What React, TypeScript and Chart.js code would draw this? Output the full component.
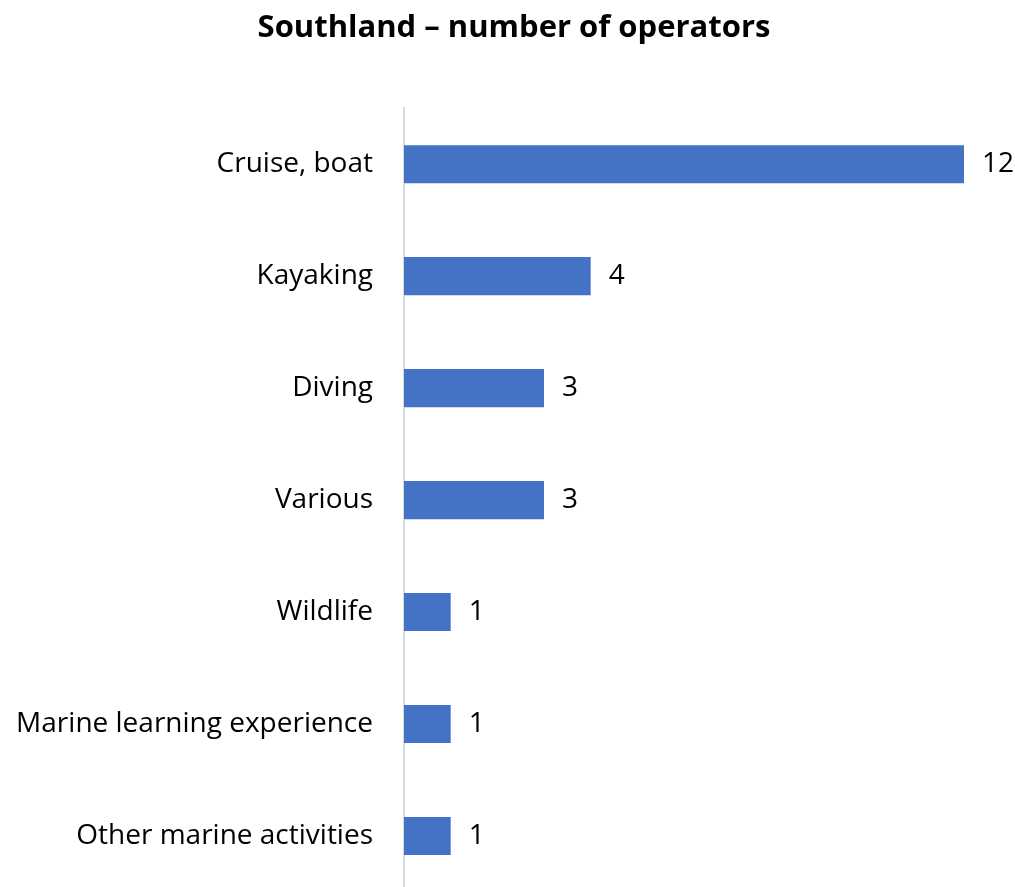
import React, { useEffect, useRef } from "react";
import { Chart, registerables } from "chart.js";

Chart.register(...registerables);

const categories = [
  "Cruise, boat",
  "Kayaking",
  "Diving",
  "Various",
  "Wildlife",
  "Marine learning experience",
  "Other marine activities",
];
const operators = [12, 4, 3, 3, 1, 1, 1];
const titleText = "Southland – number of operators";

const FONT = "'Open Sans', 'DejaVu Sans', sans-serif";

const valueLabels = {
  id: "valueLabels",
  afterDatasetsDraw(chart: any) {
    const ctx = chart.ctx;
    const meta = chart.getDatasetMeta(0);
    ctx.save();
    ctx.font = `28px ${FONT}`;
    ctx.fillStyle = "#000000";
    ctx.textAlign = "left";
    ctx.textBaseline = "middle";
    meta.data.forEach((bar: any, i: number) => {
      ctx.fillText(String(chart.data.datasets[0].data[i]), bar.x + 18, bar.y);
    });
    ctx.restore();
  },
};

export default function App() {
  const ref = useRef<HTMLCanvasElement | null>(null);
  useEffect(() => {
    if (!ref.current) return;
    const chart = new Chart(ref.current, {
      type: "bar",
      data: {
        labels: categories,
        datasets: [
          {
            data: operators,
            backgroundColor: "#4472C4",
            borderWidth: 0,
            barPercentage: 0.34,
            categoryPercentage: 1,
          },
        ],
      },
      options: {
        indexAxis: "y",
        animation: false,
        responsive: false,
        maintainAspectRatio: false,
        layout: { padding: { left: 13, right: 0, top: 0, bottom: 0 } },
        plugins: {
          legend: { display: false },
          tooltip: { enabled: false },
          title: {
            display: true,
            text: titleText,
            color: "#000000",
            font: { family: FONT, size: 31, weight: "bold", lineHeight: 1.2 },
            padding: { top: 10, bottom: 61 },
          },
        },
        scales: {
          x: { display: false, min: 0, max: 12 },
          y: {
            afterFit: (s: any) => {
              s.width = 391;
              s.paddingTop = 0;
              s.paddingBottom = 0;
            },
            grid: { display: false, drawTicks: false },
            border: { display: true, color: "#d9d9d9", width: 2 },
            ticks: {
              color: "#000000",
              padding: 31,
              font: { family: FONT, size: 28 },
            },
          },
          yRight: {
            type: "linear",
            position: "right",
            display: true,
            grid: { display: false, drawTicks: false },
            border: { display: false },
            ticks: { display: false },
            afterFit: (s: any) => {
              s.width = 51;
              s.paddingTop = 0;
              s.paddingBottom = 0;
            },
          },
        },
      },
      plugins: [valueLabels],
    });
    return () => chart.destroy();
  }, []);
  return (
    <div
      style={{
        position: "fixed",
        left: 0,
        top: 0,
        width: 1015,
        height: 887,
        overflow: "hidden",
        background: "#ffffff",
      }}
    >
      <canvas ref={ref} width={1015} height={892} style={{ display: "block" }} />
    </div>
  );
}
